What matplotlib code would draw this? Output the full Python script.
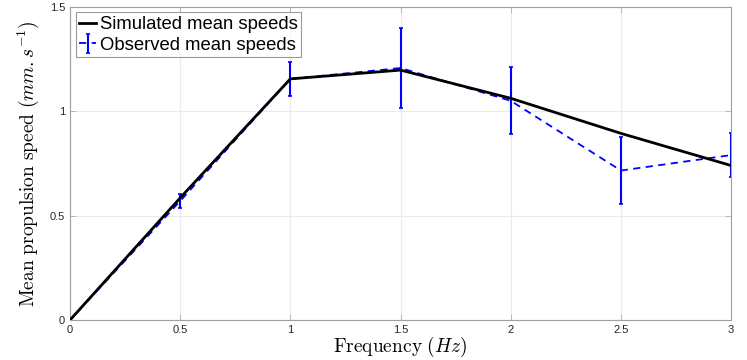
import matplotlib
matplotlib.use("Agg")
from matplotlib import pyplot as plt

freq = [0, 0.5, 1, 1.5, 2, 2.5, 3]
sim_speed = [0, 0.585, 1.155, 1.197, 1.062, 0.894, 0.74]
obs_speed = [0, 0.57, 1.155, 1.207, 1.05, 0.716, 0.79]
obs_err = [0, 0.035, 0.08, 0.19, 0.16, 0.16, 0.105]

plt.rcParams["mathtext.fontset"] = "cm"
plt.rcParams["font.family"] = ["Liberation Sans", "DejaVu Sans"]

fig = plt.figure(figsize=(7.47, 3.6), dpi=100)
ax = fig.add_axes([0.0937, 0.111, 0.885, 0.87])

ax.plot(freq, sim_speed, color="black", lw=2, label="Simulated mean speeds", zorder=3)
ax.errorbar(freq, obs_speed, yerr=obs_err, color="blue", ls="--", lw=1.3,
            elinewidth=1.5, capsize=1.5, capthick=1.2, dashes=(4, 3),
            label="Observed mean speeds", zorder=2)

ax.set_xlim(0, 3)
ax.set_ylim(0, 1.5)
ax.set_xticks([0, 0.5, 1, 1.5, 2, 2.5, 3])
ax.set_xticklabels(["0", "0.5", "1", "1.5", "2", "2.5", "3"])
ax.set_yticks([0, 0.5, 1, 1.5])
ax.set_yticklabels(["0", "0.5", "1", "1.5"])
ax.grid(True, color="#ebebeb", lw=0.8)
ax.set_axisbelow(True)
ax.tick_params(direction="in", labelsize=8, length=4,
               top=True, right=True, width=0.6)
ax.tick_params(axis="both", colors="#b0b0b0", labelcolor="#262626")
for s in ax.spines.values():
    s.set_color("#a0a0a0")
    s.set_linewidth(0.8)

ax.set_xlabel(r"$\mathrm{Frequency}\ (Hz)$", fontsize=14, labelpad=0)
ax.set_ylabel(r"$\mathrm{Mean\ propulsion\ speed}\ (mm.s^{-1})$", fontsize=14, labelpad=6)

leg = ax.legend(loc="upper left", fontsize=13.3, frameon=True, fancybox=False,
                handlelength=0.9, handletextpad=0.2, borderpad=0.2,
                labelspacing=0.2, borderaxespad=0.3)
leg.get_frame().set_edgecolor("#808080")
leg.get_frame().set_linewidth(0.8)

fig.savefig("out.png", dpi=100)
